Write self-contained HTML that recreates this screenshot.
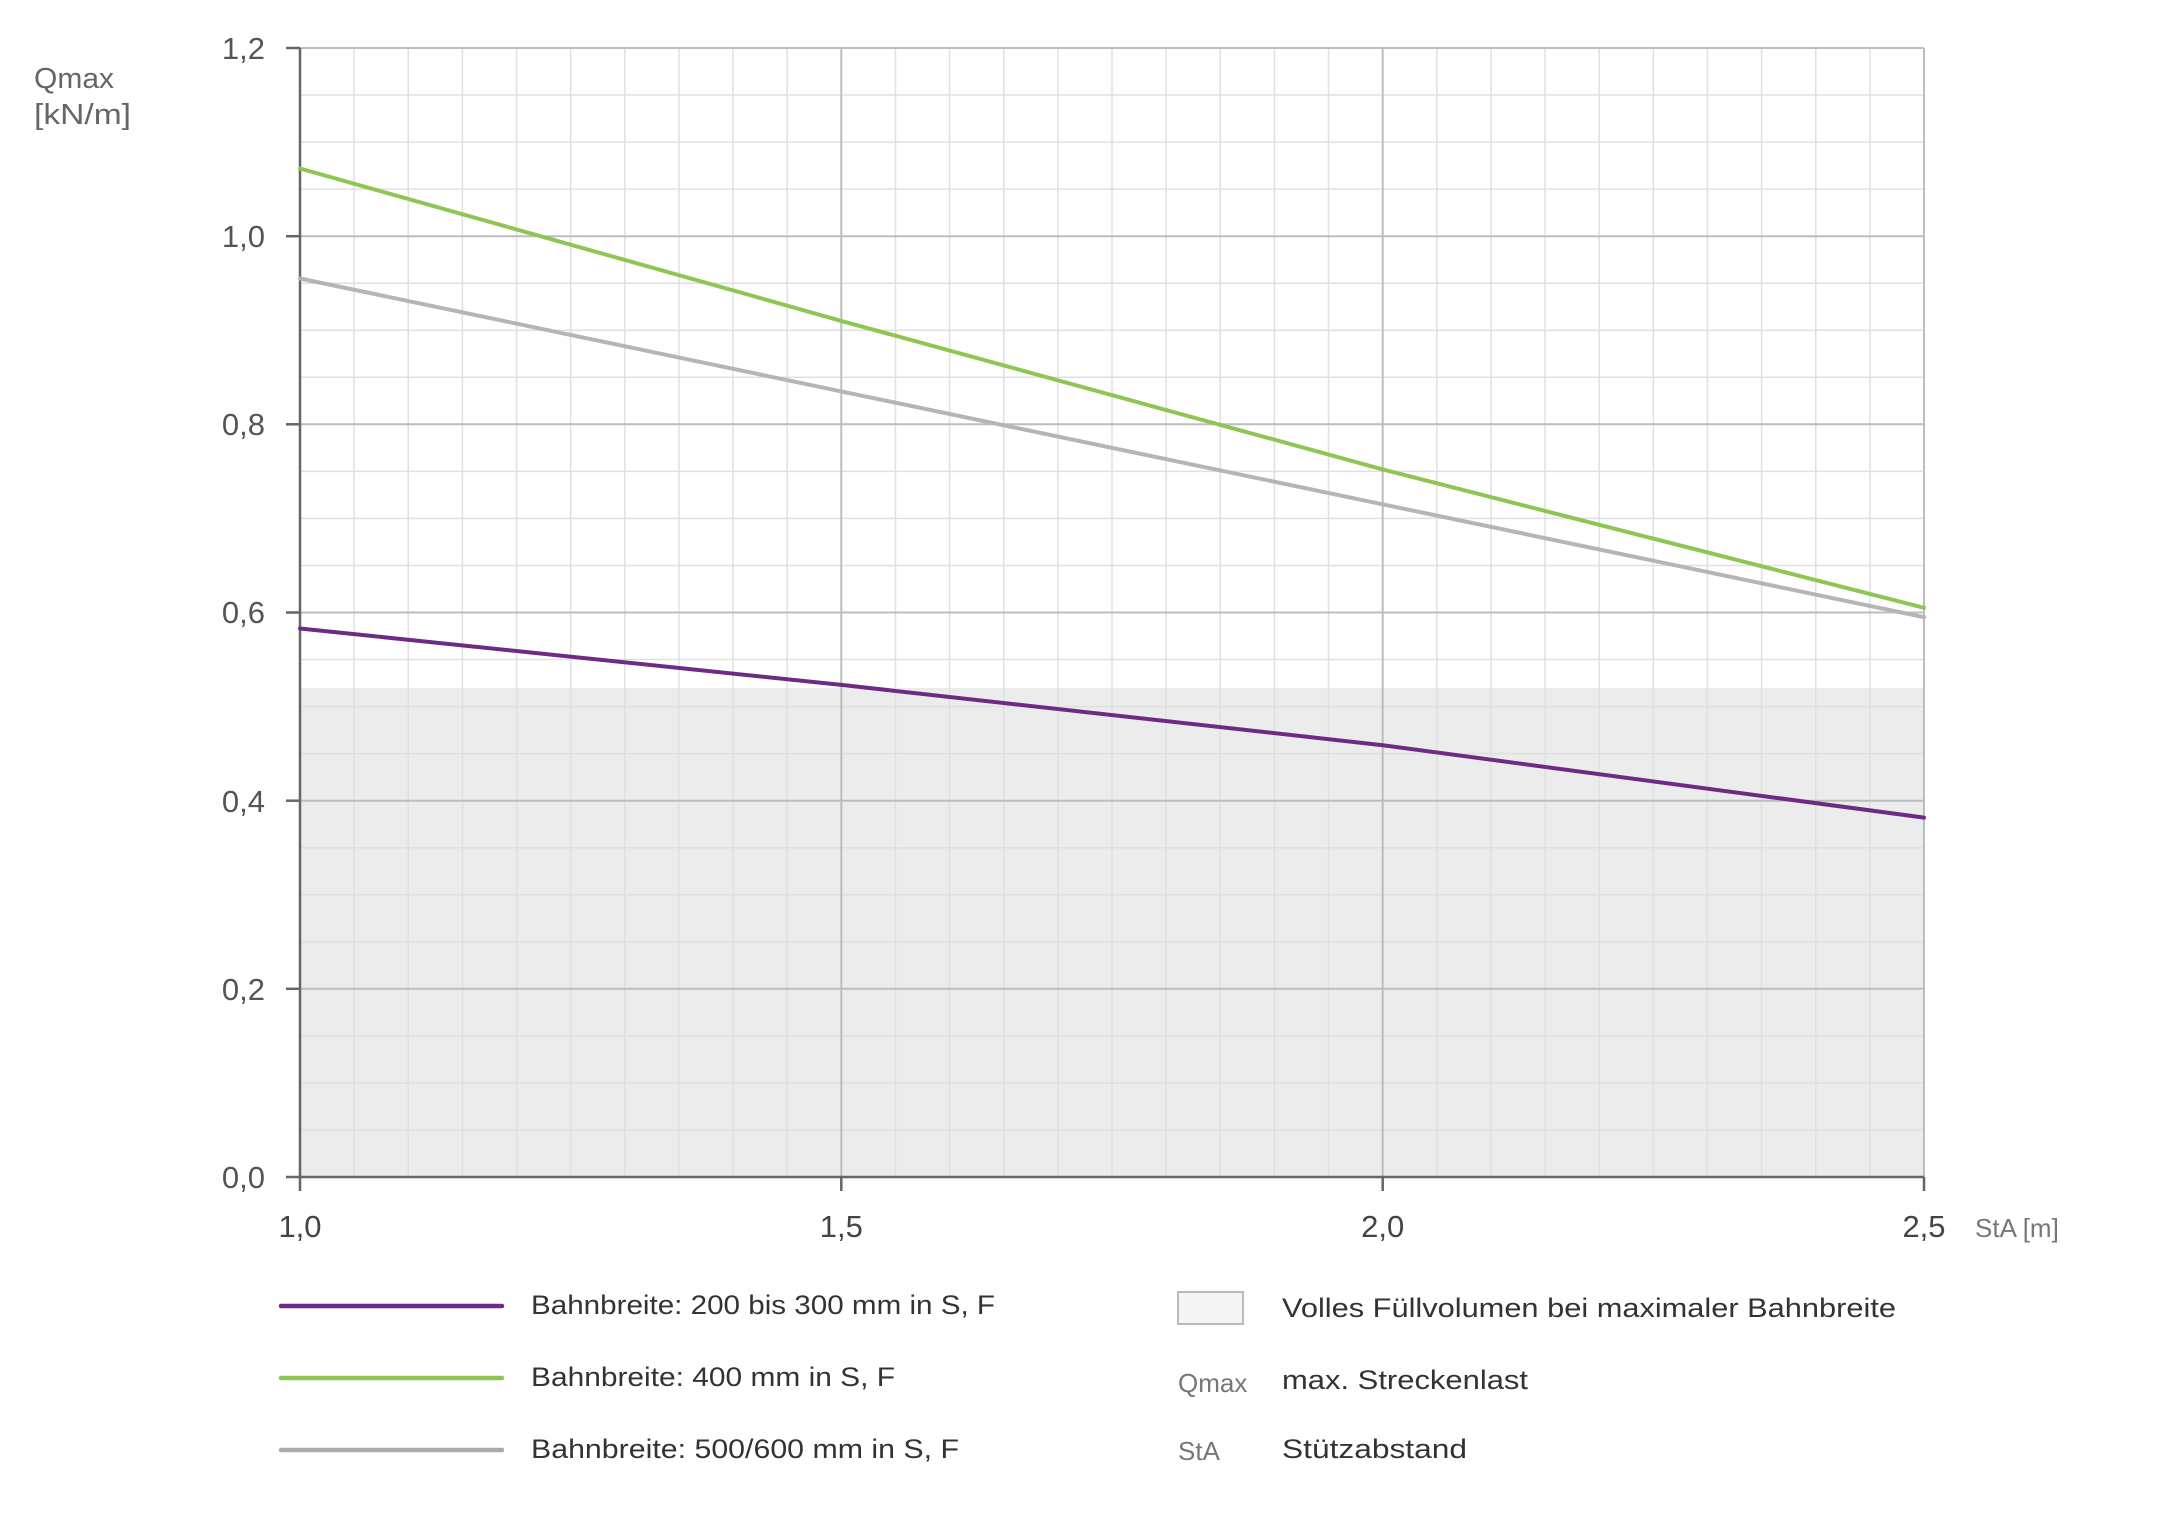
<!DOCTYPE html>
<html><head><meta charset="utf-8"><style>
html,body{margin:0;padding:0;background:#fff;}
svg{display:block;}
text{font-family:"Liberation Sans",sans-serif;}
</style></head><body>
<svg width="2160" height="1529" viewBox="0 0 2160 1529" xmlns="http://www.w3.org/2000/svg">
<rect x="300" y="688" width="1624" height="489" fill="#ececec"/>
<g stroke="#e0e0e0" stroke-width="1.5" id="minor"></g>
<script>
(function(){
 var g=document.getElementById('minor'),ns='http://www.w3.org/2000/svg';
 for(var i=1;i<30;i++){ if(i%10==0) continue; var x=300+i*1624/30;
  var l=document.createElementNS(ns,'line');l.setAttribute('x1',x);l.setAttribute('x2',x);l.setAttribute('y1',48);l.setAttribute('y2',1177);g.appendChild(l);}
 for(var j=1;j<24;j++){ if(j%4==0) continue; var y=48+j*1129/24;
  var l=document.createElementNS(ns,'line');l.setAttribute('y1',y);l.setAttribute('y2',y);l.setAttribute('x1',300);l.setAttribute('x2',1924);g.appendChild(l);}
})();
</script>
<g stroke="#bdbdbd" stroke-width="2">
<line x1="841.3" y1="48" x2="841.3" y2="1177"/>
<line x1="1382.7" y1="48" x2="1382.7" y2="1177"/>
<line x1="1924" y1="48" x2="1924" y2="1177"/>
<line x1="300" y1="48" x2="1924" y2="48"/>
<line x1="300" y1="236.2" x2="1924" y2="236.2"/>
<line x1="300" y1="424.3" x2="1924" y2="424.3"/>
<line x1="300" y1="612.5" x2="1924" y2="612.5"/>
<line x1="300" y1="800.7" x2="1924" y2="800.7"/>
<line x1="300" y1="988.8" x2="1924" y2="988.8"/>
</g>
<g stroke="#666" stroke-width="2.5">
<line x1="300" y1="48" x2="300" y2="1191"/>
<line x1="286" y1="1177" x2="1924" y2="1177"/>
<line x1="286" y1="48" x2="300" y2="48"/>
<line x1="286" y1="236.2" x2="300" y2="236.2"/>
<line x1="286" y1="424.3" x2="300" y2="424.3"/>
<line x1="286" y1="612.5" x2="300" y2="612.5"/>
<line x1="286" y1="800.7" x2="300" y2="800.7"/>
<line x1="286" y1="988.8" x2="300" y2="988.8"/>
<line x1="841.3" y1="1177" x2="841.3" y2="1191"/>
<line x1="1382.7" y1="1177" x2="1382.7" y2="1191"/>
<line x1="1924" y1="1177" x2="1924" y2="1191"/>
</g>
<g fill="none" stroke-width="4" stroke-linecap="round">
<polyline stroke="#b5b5b5" points="300,278.5 841.3,391.4 1382.7,504.3 1924,617.2"/>
<polyline stroke="#8dc652" points="300,168.5 841.3,320.9 1382.7,469.4 1924,607.8"/>
<polyline stroke="#6e2a84" points="300,628.5 841.3,684.9 1382.7,745.2 1924,817.6"/>
</g>
<g fill="#555" font-size="31" text-anchor="end">
<text x="265" y="59">1,2</text>
<text x="265" y="247">1,0</text>
<text x="265" y="435">0,8</text>
<text x="265" y="623">0,6</text>
<text x="265" y="812">0,4</text>
<text x="265" y="1000">0,2</text>
<text x="265" y="1188">0,0</text>
</g>
<g fill="#444" font-size="31" text-anchor="middle">
<text x="300" y="1237">1,0</text>
<text x="841.3" y="1237">1,5</text>
<text x="1382.7" y="1237">2,0</text>
<text x="1924" y="1237">2,5</text>
</g>
<text x="1975" y="1237" fill="#777" font-size="26">StA [m]</text>
<text x="34" y="88" fill="#666" font-size="29" textLength="80" lengthAdjust="spacingAndGlyphs">Qmax</text>
<text x="34" y="124" fill="#666" font-size="29" textLength="97" lengthAdjust="spacingAndGlyphs">[kN/m]</text>
<g stroke-width="4.5" stroke-linecap="round">
<line x1="281" y1="1306" x2="502" y2="1306" stroke="#6e2a84"/>
<line x1="281" y1="1378" x2="502" y2="1378" stroke="#8dc652"/>
<line x1="281" y1="1450" x2="502" y2="1450" stroke="#aaaaaa"/>
</g>
<g fill="#333" font-size="27">
<text x="531" y="1314" textLength="464" lengthAdjust="spacingAndGlyphs">Bahnbreite: 200 bis 300 mm in S, F</text>
<text x="531" y="1386" textLength="364" lengthAdjust="spacingAndGlyphs">Bahnbreite: 400 mm in S, F</text>
<text x="531" y="1458" textLength="428" lengthAdjust="spacingAndGlyphs">Bahnbreite: 500/600 mm in S, F</text>
<text x="1282" y="1317" textLength="614" lengthAdjust="spacingAndGlyphs">Volles Füllvolumen bei maximaler Bahnbreite</text>
<text x="1282" y="1389" textLength="246" lengthAdjust="spacingAndGlyphs">max. Streckenlast</text>
<text x="1282" y="1458" textLength="185" lengthAdjust="spacingAndGlyphs">Stützabstand</text>
</g>
<rect x="1178" y="1292" width="65" height="32" fill="#f4f4f4" stroke="#bbb" stroke-width="2"/>
<text x="1178" y="1392" fill="#777" font-size="26">Qmax</text>
<text x="1178" y="1460" fill="#777" font-size="26">StA</text>
</svg>
</body></html>
